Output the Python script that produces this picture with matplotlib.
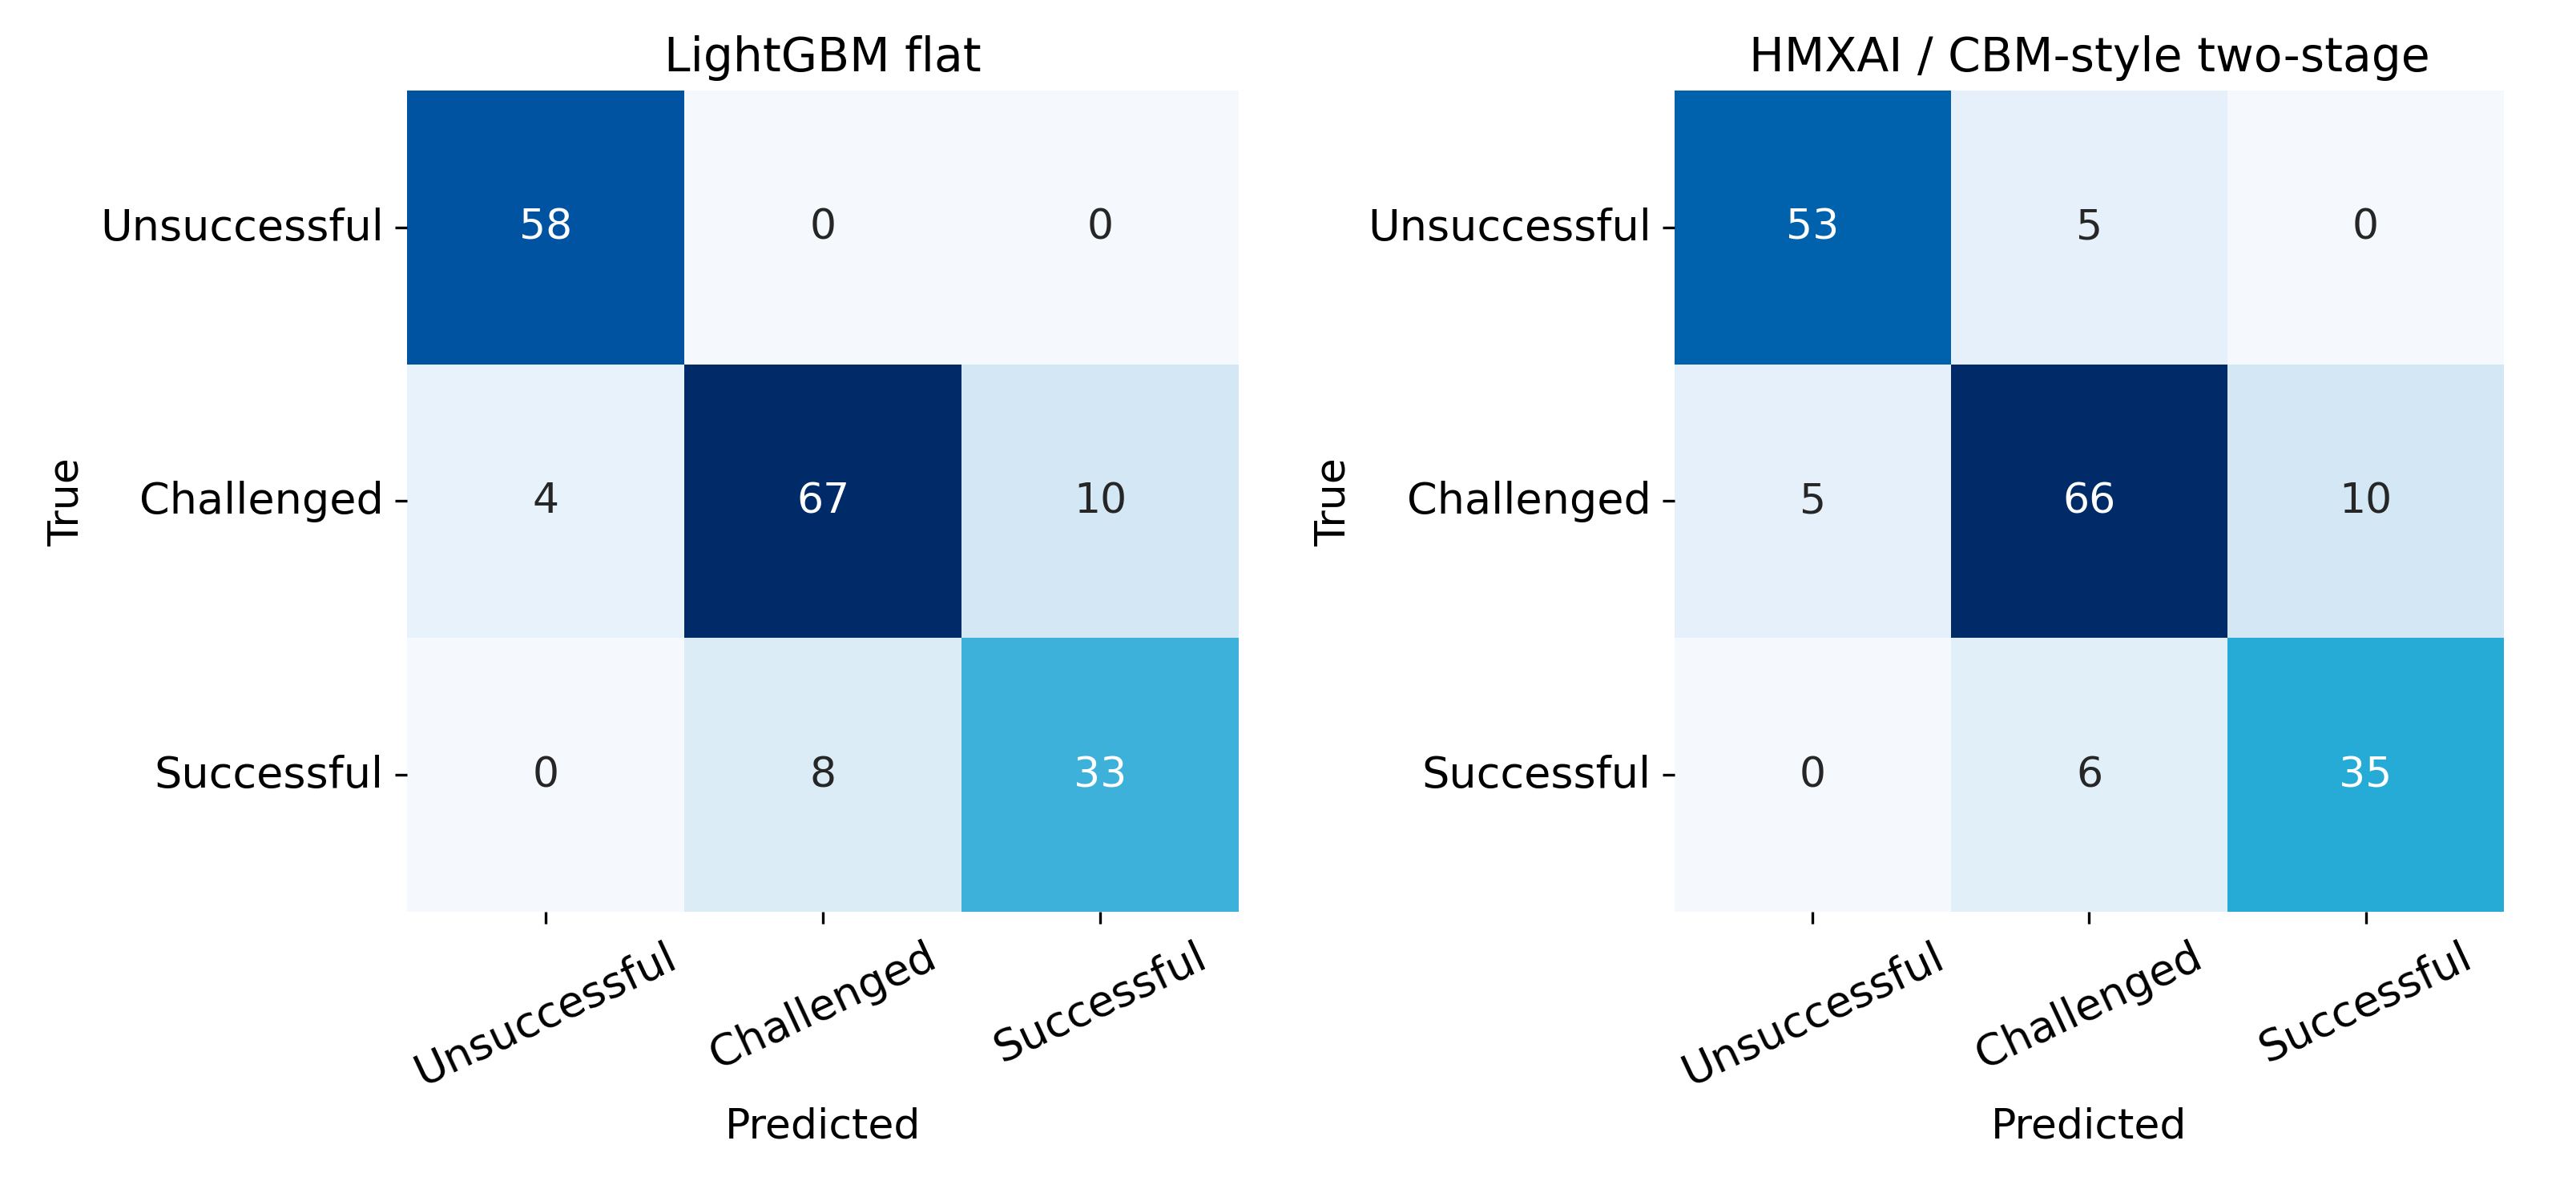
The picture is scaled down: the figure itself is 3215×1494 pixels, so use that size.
import numpy as np
import matplotlib
matplotlib.use('Agg')
import matplotlib.pyplot as plt
import seaborn as sns
from matplotlib.colors import LinearSegmentedColormap

classes = ['Unsuccessful', 'Challenged', 'Successful']
cm_lgbm = np.array([[58, 0, 0],
                    [4, 67, 10],
                    [0, 8, 33]])
cm_hmxai = np.array([[53, 5, 0],
                     [5, 66, 10],
                     [0, 6, 35]])
titles = ['LightGBM flat', 'HMXAI / CBM-style two-stage']

cmap = LinearSegmentedColormap.from_list('blues_c', [
    (0.0, '#f5f9fe'), (0.06, '#e8f2fb'), (0.15, '#d3e8f4'),
    (0.5, '#3bb0da'), (0.55, '#17a8d4'), (0.8, '#0063ae'),
    (0.87, '#0052a0'), (1.0, '#002a68')])

fig = plt.figure(figsize=(10.717, 4.983), dpi=300)
positions = [[0.158, 0.238, 0.323, 0.686], [0.650, 0.238, 0.322, 0.686]]

for pos, cm, title in zip(positions, [cm_lgbm, cm_hmxai], titles):
    ax = fig.add_axes(pos)
    sns.heatmap(cm, annot=True, fmt='d', cmap=cmap, cbar=False, ax=ax,
                xticklabels=classes, yticklabels=classes,
                annot_kws={'fontsize': 12.5})
    ax.set_title(title, fontsize=14)
    ax.set_xlabel('Predicted', fontsize=12.5)
    ax.set_ylabel('True', fontsize=12.5)
    ax.tick_params(labelsize=13)
    plt.setp(ax.get_xticklabels(), rotation=25)
    plt.setp(ax.get_yticklabels(), rotation=0)

fig.savefig('out.png', dpi=300)
